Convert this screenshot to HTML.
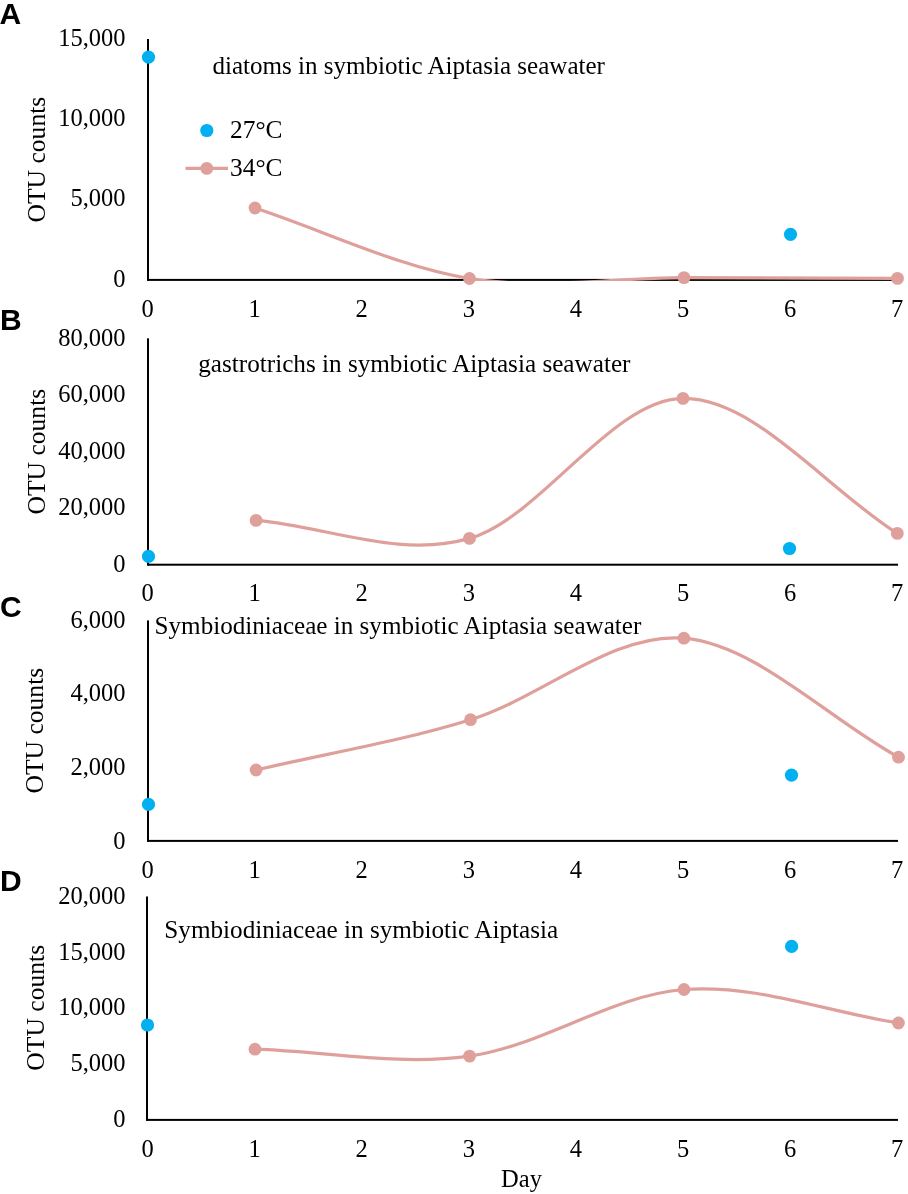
<!DOCTYPE html><html><head><meta charset="utf-8"><style>html,body{margin:0;padding:0;background:#fff;width:908px;height:1194px;overflow:hidden}svg{display:block;will-change:transform}</style></head><body>
<svg width="908" height="1194" viewBox="0 0 908 1194">
<rect width="908" height="1194" fill="#fff"/>
<text x="-0.6" y="24" font-family="Liberation Sans" font-weight="bold" font-size="30" fill="#000">A</text>
<text x="125.5" y="45.70" text-anchor="end" font-family="Liberation Serif" font-size="24.5" fill="#000">15,000</text>
<text x="125.5" y="126.07" text-anchor="end" font-family="Liberation Serif" font-size="24.5" fill="#000">10,000</text>
<text x="125.5" y="206.43" text-anchor="end" font-family="Liberation Serif" font-size="24.5" fill="#000">5,000</text>
<text x="125.5" y="286.80" text-anchor="end" font-family="Liberation Serif" font-size="24.5" fill="#000">0</text>
<text x="147.50" y="316.80" text-anchor="middle" font-family="Liberation Serif" font-size="24.5" fill="#000">0</text>
<text x="254.60" y="316.80" text-anchor="middle" font-family="Liberation Serif" font-size="24.5" fill="#000">1</text>
<text x="361.70" y="316.80" text-anchor="middle" font-family="Liberation Serif" font-size="24.5" fill="#000">2</text>
<text x="468.80" y="316.80" text-anchor="middle" font-family="Liberation Serif" font-size="24.5" fill="#000">3</text>
<text x="575.90" y="316.80" text-anchor="middle" font-family="Liberation Serif" font-size="24.5" fill="#000">4</text>
<text x="683.00" y="316.80" text-anchor="middle" font-family="Liberation Serif" font-size="24.5" fill="#000">5</text>
<text x="790.10" y="316.80" text-anchor="middle" font-family="Liberation Serif" font-size="24.5" fill="#000">6</text>
<text x="897.20" y="316.80" text-anchor="middle" font-family="Liberation Serif" font-size="24.5" fill="#000">7</text>
<text transform="translate(45,159.65) rotate(-90)" x="0" y="0" text-anchor="middle" font-family="Liberation Serif" font-size="25.6" fill="#000">OTU counts</text>
<text x="212.4" y="74.3" font-family="Liberation Serif" font-size="25.07" fill="#000">diatoms in symbiotic Aiptasia seawater</text>
<rect x="147" y="39.00" width="2" height="241.90" fill="#000"/>
<rect x="148" y="278.90" width="750.00" height="2" fill="#000"/>
<clipPath id="clip0"><rect x="140" y="29.00" width="768" height="251.90"/></clipPath>
<g clip-path="url(#clip0)"><path d="M255.00,208.00 C326.50,231.50 398.00,266.90 469.50,278.50 C541.00,290.10 612.67,277.62 684.00,277.60 C755.33,277.58 826.33,278.13 897.50,278.40" fill="none" stroke="#DFA09C" stroke-width="3.25" stroke-linecap="round" stroke-linejoin="round"/></g>
<circle cx="255.00" cy="208.00" r="6.4" fill="#DFA09C"/>
<circle cx="469.50" cy="278.50" r="6.4" fill="#DFA09C"/>
<circle cx="684.00" cy="277.60" r="6.4" fill="#DFA09C"/>
<circle cx="897.50" cy="278.40" r="6.4" fill="#DFA09C"/>
<circle cx="148.50" cy="57.05" r="6.6" fill="#00B0F0"/>
<circle cx="790.50" cy="234.30" r="6.6" fill="#00B0F0"/>
<text x="0" y="330" font-family="Liberation Sans" font-weight="bold" font-size="30" fill="#000">B</text>
<text x="125.5" y="345.70" text-anchor="end" font-family="Liberation Serif" font-size="24.5" fill="#000">80,000</text>
<text x="125.5" y="402.22" text-anchor="end" font-family="Liberation Serif" font-size="24.5" fill="#000">60,000</text>
<text x="125.5" y="458.75" text-anchor="end" font-family="Liberation Serif" font-size="24.5" fill="#000">40,000</text>
<text x="125.5" y="515.27" text-anchor="end" font-family="Liberation Serif" font-size="24.5" fill="#000">20,000</text>
<text x="125.5" y="571.80" text-anchor="end" font-family="Liberation Serif" font-size="24.5" fill="#000">0</text>
<text x="147.50" y="601.40" text-anchor="middle" font-family="Liberation Serif" font-size="24.5" fill="#000">0</text>
<text x="254.60" y="601.40" text-anchor="middle" font-family="Liberation Serif" font-size="24.5" fill="#000">1</text>
<text x="361.70" y="601.40" text-anchor="middle" font-family="Liberation Serif" font-size="24.5" fill="#000">2</text>
<text x="468.80" y="601.40" text-anchor="middle" font-family="Liberation Serif" font-size="24.5" fill="#000">3</text>
<text x="575.90" y="601.40" text-anchor="middle" font-family="Liberation Serif" font-size="24.5" fill="#000">4</text>
<text x="683.00" y="601.40" text-anchor="middle" font-family="Liberation Serif" font-size="24.5" fill="#000">5</text>
<text x="790.10" y="601.40" text-anchor="middle" font-family="Liberation Serif" font-size="24.5" fill="#000">6</text>
<text x="897.20" y="601.40" text-anchor="middle" font-family="Liberation Serif" font-size="24.5" fill="#000">7</text>
<text transform="translate(45,451.7) rotate(-90)" x="0" y="0" text-anchor="middle" font-family="Liberation Serif" font-size="25.6" fill="#000">OTU counts</text>
<text x="198.2" y="371.5" font-family="Liberation Serif" font-size="25.2" fill="#000">gastrotrichs in symbiotic Aiptasia seawater</text>
<rect x="147" y="338.30" width="2" height="227.40" fill="#000"/>
<rect x="148" y="563.70" width="750.00" height="2" fill="#000"/>
<clipPath id="clip1"><rect x="140" y="328.30" width="768" height="237.40"/></clipPath>
<g clip-path="url(#clip1)"><path d="M256.10,520.40 C327.23,526.40 398.35,558.73 469.50,538.40 C540.65,518.07 611.70,399.23 683.00,398.40 C754.30,397.57 825.87,488.40 897.30,533.40" fill="none" stroke="#DFA09C" stroke-width="3.25" stroke-linecap="round" stroke-linejoin="round"/></g>
<circle cx="256.10" cy="520.40" r="6.4" fill="#DFA09C"/>
<circle cx="469.50" cy="538.40" r="6.4" fill="#DFA09C"/>
<circle cx="683.00" cy="398.40" r="6.4" fill="#DFA09C"/>
<circle cx="897.30" cy="533.40" r="6.4" fill="#DFA09C"/>
<circle cx="148.50" cy="556.40" r="6.6" fill="#00B0F0"/>
<circle cx="789.50" cy="548.50" r="6.6" fill="#00B0F0"/>
<text x="0" y="617" font-family="Liberation Sans" font-weight="bold" font-size="30" fill="#000">C</text>
<text x="125.5" y="627.60" text-anchor="end" font-family="Liberation Serif" font-size="24.5" fill="#000">6,000</text>
<text x="125.5" y="701.30" text-anchor="end" font-family="Liberation Serif" font-size="24.5" fill="#000">4,000</text>
<text x="125.5" y="775.00" text-anchor="end" font-family="Liberation Serif" font-size="24.5" fill="#000">2,000</text>
<text x="125.5" y="848.70" text-anchor="end" font-family="Liberation Serif" font-size="24.5" fill="#000">0</text>
<text x="147.50" y="878.20" text-anchor="middle" font-family="Liberation Serif" font-size="24.5" fill="#000">0</text>
<text x="254.60" y="878.20" text-anchor="middle" font-family="Liberation Serif" font-size="24.5" fill="#000">1</text>
<text x="361.70" y="878.20" text-anchor="middle" font-family="Liberation Serif" font-size="24.5" fill="#000">2</text>
<text x="468.80" y="878.20" text-anchor="middle" font-family="Liberation Serif" font-size="24.5" fill="#000">3</text>
<text x="575.90" y="878.20" text-anchor="middle" font-family="Liberation Serif" font-size="24.5" fill="#000">4</text>
<text x="683.00" y="878.20" text-anchor="middle" font-family="Liberation Serif" font-size="24.5" fill="#000">5</text>
<text x="790.10" y="878.20" text-anchor="middle" font-family="Liberation Serif" font-size="24.5" fill="#000">6</text>
<text x="897.20" y="878.20" text-anchor="middle" font-family="Liberation Serif" font-size="24.5" fill="#000">7</text>
<text transform="translate(43,730.7) rotate(-90)" x="0" y="0" text-anchor="middle" font-family="Liberation Serif" font-size="25.6" fill="#000">OTU counts</text>
<text x="154.6" y="633.6" font-family="Liberation Serif" font-size="25.12" fill="#000">Symbiodiniaceae in symbiotic Aiptasia seawater</text>
<rect x="147" y="620.40" width="2" height="221.50" fill="#000"/>
<rect x="148" y="839.90" width="750.00" height="2" fill="#000"/>
<clipPath id="clip2"><rect x="140" y="610.40" width="768" height="231.50"/></clipPath>
<g clip-path="url(#clip2)"><path d="M256.10,770.00 C327.57,753.23 399.20,741.67 470.50,719.70 C541.80,697.73 612.57,631.95 683.90,638.20 C755.23,644.45 826.97,717.53 898.50,757.20" fill="none" stroke="#DFA09C" stroke-width="3.25" stroke-linecap="round" stroke-linejoin="round"/></g>
<circle cx="256.10" cy="770.00" r="6.4" fill="#DFA09C"/>
<circle cx="470.50" cy="719.70" r="6.4" fill="#DFA09C"/>
<circle cx="683.90" cy="638.20" r="6.4" fill="#DFA09C"/>
<circle cx="898.50" cy="757.20" r="6.4" fill="#DFA09C"/>
<circle cx="148.50" cy="804.40" r="6.6" fill="#00B0F0"/>
<circle cx="791.50" cy="775.20" r="6.6" fill="#00B0F0"/>
<text x="0" y="891" font-family="Liberation Sans" font-weight="bold" font-size="30" fill="#000">D</text>
<text x="125.5" y="903.80" text-anchor="end" font-family="Liberation Serif" font-size="24.5" fill="#000">20,000</text>
<text x="125.5" y="959.55" text-anchor="end" font-family="Liberation Serif" font-size="24.5" fill="#000">15,000</text>
<text x="125.5" y="1015.30" text-anchor="end" font-family="Liberation Serif" font-size="24.5" fill="#000">10,000</text>
<text x="125.5" y="1071.05" text-anchor="end" font-family="Liberation Serif" font-size="24.5" fill="#000">5,000</text>
<text x="125.5" y="1126.80" text-anchor="end" font-family="Liberation Serif" font-size="24.5" fill="#000">0</text>
<text x="147.50" y="1157.20" text-anchor="middle" font-family="Liberation Serif" font-size="24.5" fill="#000">0</text>
<text x="254.60" y="1157.20" text-anchor="middle" font-family="Liberation Serif" font-size="24.5" fill="#000">1</text>
<text x="361.70" y="1157.20" text-anchor="middle" font-family="Liberation Serif" font-size="24.5" fill="#000">2</text>
<text x="468.80" y="1157.20" text-anchor="middle" font-family="Liberation Serif" font-size="24.5" fill="#000">3</text>
<text x="575.90" y="1157.20" text-anchor="middle" font-family="Liberation Serif" font-size="24.5" fill="#000">4</text>
<text x="683.00" y="1157.20" text-anchor="middle" font-family="Liberation Serif" font-size="24.5" fill="#000">5</text>
<text x="790.10" y="1157.20" text-anchor="middle" font-family="Liberation Serif" font-size="24.5" fill="#000">6</text>
<text x="897.20" y="1157.20" text-anchor="middle" font-family="Liberation Serif" font-size="24.5" fill="#000">7</text>
<text transform="translate(44,1007.75) rotate(-90)" x="0" y="0" text-anchor="middle" font-family="Liberation Serif" font-size="25.6" fill="#000">OTU counts</text>
<text x="164.3" y="937.8" font-family="Liberation Serif" font-size="25.2" fill="#000">Symbiodiniaceae in symbiotic Aiptasia</text>
<rect x="146" y="896.50" width="2" height="224.40" fill="#000"/>
<rect x="147" y="1118.90" width="751.00" height="2" fill="#000"/>
<clipPath id="clip3"><rect x="140" y="886.50" width="768" height="234.40"/></clipPath>
<g clip-path="url(#clip3)"><path d="M255.00,1049.20 C326.53,1051.50 398.10,1066.05 469.60,1056.10 C541.10,1046.15 612.53,995.02 684.00,989.50 C755.47,983.98 826.93,1011.83 898.40,1023.00" fill="none" stroke="#DFA09C" stroke-width="3.25" stroke-linecap="round" stroke-linejoin="round"/></g>
<circle cx="255.00" cy="1049.20" r="6.4" fill="#DFA09C"/>
<circle cx="469.60" cy="1056.10" r="6.4" fill="#DFA09C"/>
<circle cx="684.00" cy="989.50" r="6.4" fill="#DFA09C"/>
<circle cx="898.40" cy="1023.00" r="6.4" fill="#DFA09C"/>
<circle cx="147.50" cy="1025.00" r="6.6" fill="#00B0F0"/>
<circle cx="791.60" cy="946.40" r="6.6" fill="#00B0F0"/>
<circle cx="206.8" cy="130.5" r="6.6" fill="#00B0F0"/>
<text x="230" y="138" font-family="Liberation Serif" font-size="25.4" fill="#000">27°C</text>
<line x1="185.5" y1="168.4" x2="228" y2="168.4" stroke="#DFA09C" stroke-width="3.25"/>
<circle cx="206.8" cy="168.4" r="6.4" fill="#DFA09C"/>
<text x="230" y="176" font-family="Liberation Serif" font-size="25.4" fill="#000">34°C</text>
<text x="521.5" y="1186.9" text-anchor="middle" font-family="Liberation Serif" font-size="24.5" fill="#000">Day</text>
</svg></body></html>
